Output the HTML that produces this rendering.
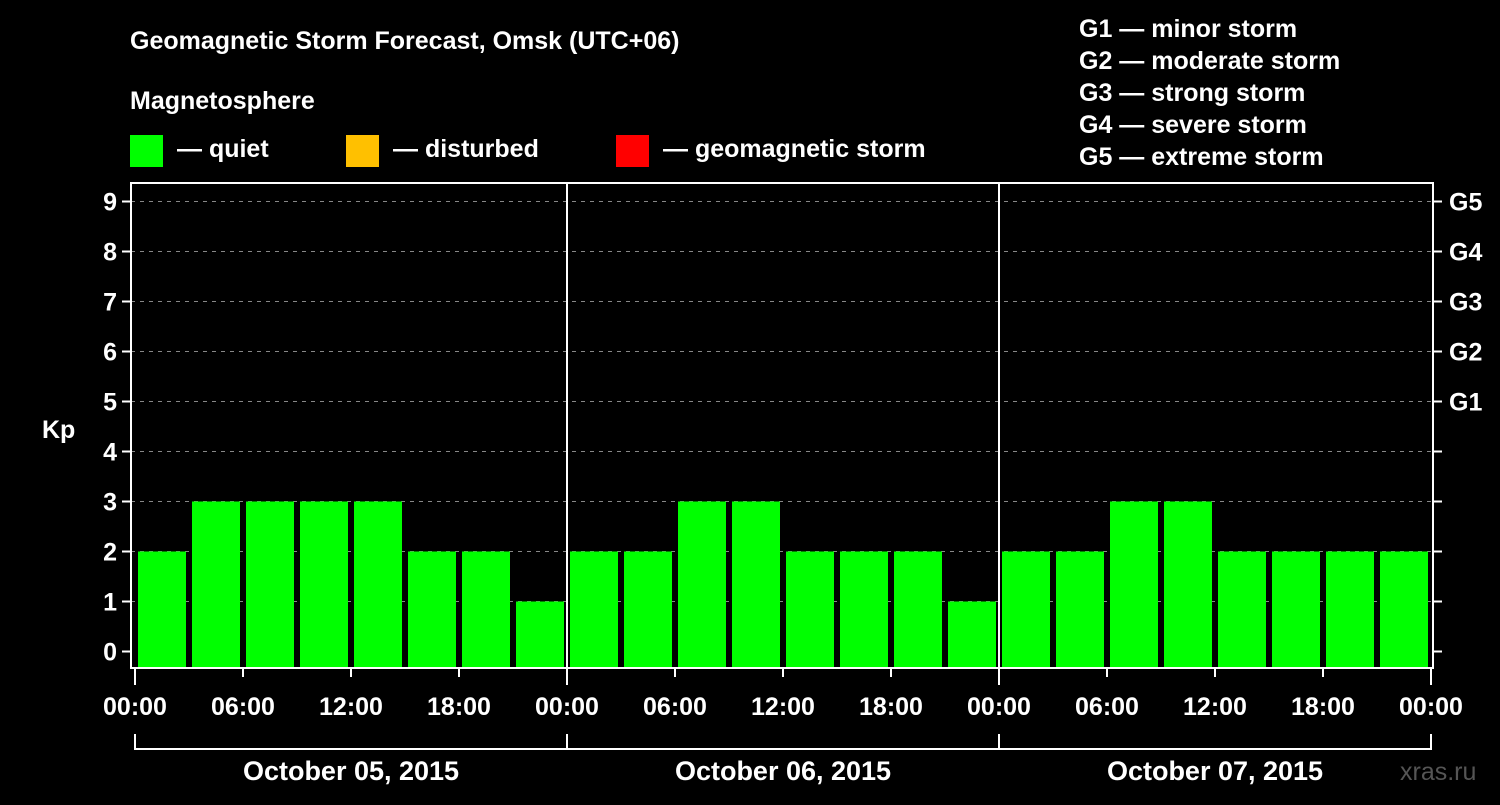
<!DOCTYPE html>
<html><head><meta charset="utf-8"><style>
body{margin:0;background:#000;width:1500px;height:800px;overflow:hidden}
svg text{font-family:"Liberation Sans",sans-serif;font-weight:bold;fill:#fff}
</style></head><body>
<svg id="c" width="1500" height="800">
<text x="130" y="49" font-size="25">Geomagnetic Storm Forecast, Omsk (UTC+06)</text>
<text x="130" y="109" font-size="25">Magnetosphere</text>
<rect x="130" y="135" width="33" height="32" fill="#00ff00"/>
<text x="177" y="157" font-size="25">— quiet</text>
<rect x="346" y="135" width="33" height="32" fill="#ffc000"/>
<text x="393" y="157" font-size="25">— disturbed</text>
<rect x="616" y="135" width="33" height="32" fill="#ff0000"/>
<text x="663" y="157" font-size="25">— geomagnetic storm</text>
<g font-size="25">
<text x="1079" y="37">G1 — minor storm</text>
<text x="1079" y="69">G2 — moderate storm</text>
<text x="1079" y="101">G3 — strong storm</text>
<text x="1079" y="133">G4 — severe storm</text>
<text x="1079" y="165">G5 — extreme storm</text>
</g>
<text x="42" y="438" font-size="25">Kp</text>
<text x="1400" y="780" font-size="25" fill="#555" style="fill:#555;font-weight:normal">xras.ru</text>
<g id="plot"></g>
</svg>
<script>
const days = ["October 05, 2015","October 06, 2015","October 07, 2015"];
const kpValues = [2,3,3,3,3,2,2,1, 2,2,3,3,2,2,2,1, 2,2,3,3,2,2,2,2];
const yTicks = [0,1,2,3,4,5,6,7,8,9];
const gLabels = ["G1","G2","G3","G4","G5"];
const xTickLabels = ["00:00","06:00","12:00","18:00"];
const NS="http://www.w3.org/2000/svg";
const g=document.getElementById('plot');
const X0=135, DAYW=432, Y0=651.5, UNIT=50, TOP=183, BOT=668, L=131, R=1433;
const xs=h=>X0+h/24*DAYW;
const ys=v=>Y0-v*UNIT;
function mk(t,a){const e=document.createElementNS(NS,t);for(const k in a)e.setAttribute(k,a[k]);g.appendChild(e);return e;}
yTicks.forEach(v=>{
  if(v>0){const l=mk('line',{x1:L,x2:R,y1:ys(v),y2:ys(v),stroke:'#888','stroke-dasharray':'4,5','stroke-width':1});
  
  }
  const t=mk('line',{x1:L-9,x2:L,y1:ys(v),y2:ys(v),stroke:'#fff','stroke-width':2});
  
  
  const t2=mk('line',{x1:R,x2:R+9,y1:ys(v),y2:ys(v),stroke:'#fff','stroke-width':2});
  
  
  const tx=mk('text',{x:L-14,y:ys(v)+9,'font-size':25,'text-anchor':'end'});
  tx.textContent=v;
  
  
});
gLabels.forEach((s,i)=>{
  const tx=mk('text',{x:R+16,y:ys(i+5)+9,'font-size':25});
  tx.textContent=s;
  
  
});
kpValues.forEach((v,i)=>{
  const x=xs(i*3)+3;
  const c=v>=5?'#ff0000':(v>=4?'#ffc000':'#00ff00');
  const b=mk('rect',{x:x,y:ys(v),width:48,height:BOT-ys(v),fill:c});
  
  
});
for(let d=1;d<days.length;d++){
  const l=mk('line',{x1:xs(d*24),x2:xs(d*24),y1:TOP,y2:BOT,stroke:'#fff','stroke-width':2});
  
  
}
const fr=mk('rect',{x:L,y:TOP,width:R-L,height:BOT-TOP,fill:'none',stroke:'#fff','stroke-width':2});


for(let d=0;d<=days.length;d++){
  for(let k=0;k<4;k++){
    if(d==days.length&&k>0)break;
    const h=d*24+k*6;
    const x=xs(h);
    const tl=mk('line',{x1:x,x2:x,y1:BOT,y2:BOT+(k==0?17:9),stroke:'#fff','stroke-width':2});
    
    
    const tx=mk('text',{x:x,y:715,'font-size':25,'text-anchor':'middle'});
    tx.textContent=xTickLabels[k];
    
    
  }
}
days.forEach((s,d)=>{
  const a=xs(d*24),b=xs(d*24+24);
  const p=mk('path',{d:`M${a},734V749H${b}V734`,fill:'none',stroke:'#fff','stroke-width':2});
  
  
  const tx=mk('text',{x:(a+b)/2,y:780,'font-size':27,'text-anchor':'middle'});
  tx.textContent=s;
  
  
});
</script>
</body></html>
